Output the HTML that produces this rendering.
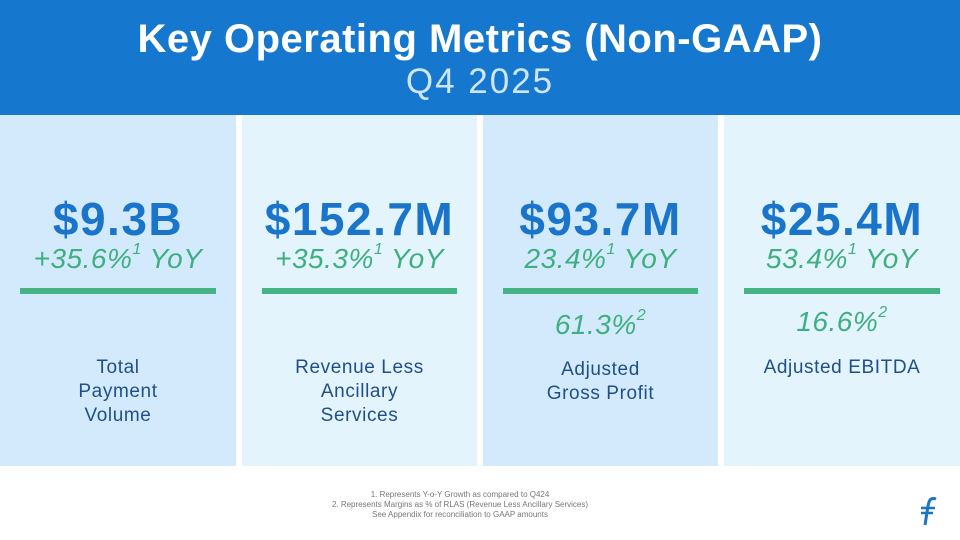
<!DOCTYPE html>
<html><head><meta charset="utf-8"><style>
*{margin:0;padding:0;box-sizing:border-box}
body{width:960px;height:540px;overflow:hidden;background:#fff;font-family:"Liberation Sans",sans-serif;position:relative}
.hdr{position:absolute;left:0;top:0;width:960px;height:115px;background:#1677cf}
.t1{position:absolute;top:17px;width:960px;text-align:center;color:#fff;font-weight:bold;font-size:40px;letter-spacing:0.5px}
.t2{position:absolute;top:62px;width:960px;text-align:center;color:#cfe6fa;font-size:35px;letter-spacing:2px}
.p{position:absolute;top:115px;height:351px}
.big{position:absolute;top:77px;width:100%;text-align:center;color:#1a74ca;font-weight:bold;font-size:46px;letter-spacing:1.5px}
.g{position:absolute;top:128px;width:100%;text-align:center;color:#3fae80;font-style:italic;font-size:28px;letter-spacing:0.5px}
.g sup{font-size:16px;vertical-align:top;position:relative;top:-2px}
.bar{position:absolute;top:173px;left:20px;right:20px;height:6px;background:#45b384}
.m{position:absolute;top:194px;width:100%;text-align:center;color:#3fae80;font-style:italic;font-size:28px;letter-spacing:0.5px}
.m sup{font-size:16px;vertical-align:top;position:relative;top:-2px}
.lab{position:absolute;width:100%;text-align:center;color:#1f4f8a;font-size:19px;line-height:24px;letter-spacing:0.6px}
.fn{position:absolute;top:490px;left:300px;width:320px;text-align:center;color:#777;font-size:8px;line-height:10px}
</style></head><body>
<div class="hdr">
<div class="t1">Key Operating Metrics (Non-GAAP)</div>
<div class="t2">Q4 2025</div>
</div>
<div class="p" style="left:0;width:236px;background:#d3eafc">
<div class="big">$9.3B</div>
<div class="g">+35.6%<sup>1</sup> YoY</div>
<div class="bar"></div>
<div class="lab" style="top:241px">Total<br>Payment<br>Volume</div>
</div>
<div class="p" style="left:242px;width:235px;background:#e3f4fc">
<div class="big">$152.7M</div>
<div class="g">+35.3%<sup>1</sup> YoY</div>
<div class="bar"></div>
<div class="lab" style="top:241px">Revenue Less<br>Ancillary<br>Services</div>
</div>
<div class="p" style="left:483px;width:235px;background:#d3eafc">
<div class="big">$93.7M</div>
<div class="g">23.4%<sup>1</sup> YoY</div>
<div class="bar"></div>
<div class="m">61.3%<sup>2</sup></div>
<div class="lab" style="top:243px">Adjusted<br>Gross Profit</div>
</div>
<div class="p" style="left:724px;width:236px;background:#e3f4fc">
<div class="big">$25.4M</div>
<div class="g">53.4%<sup>1</sup> YoY</div>
<div class="bar"></div>
<div class="m" style="top:191px">16.6%<sup>2</sup></div>
<div class="lab" style="top:241px">Adjusted EBITDA</div>
</div>
<div class="fn">1. Represents Y-o-Y Growth as compared to Q424<br>2. Represents Margins as % of RLAS (Revenue Less Ancillary Services)<br>See Appendix for reconciliation to GAAP amounts</div>
<svg style="position:absolute;left:918px;top:496px" width="22" height="32" viewBox="0 0 22 32">
<path d="M18 3 C12 1 11 5 10 10 L7 29" stroke="#1a74ca" stroke-width="3" fill="none"/>
<path d="M3 12 H17 M3 17 H15" stroke="#1a74ca" stroke-width="2.5"/>
</svg>
</body></html>
